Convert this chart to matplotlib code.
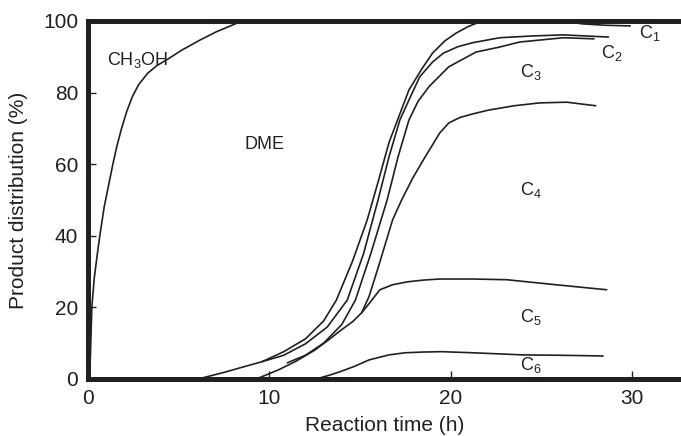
import matplotlib
matplotlib.use('Agg')
from matplotlib import pyplot as plt

plt.rcParams['font.family'] = ['Liberation Sans', 'DejaVu Sans']
plt.rcParams['mathtext.default'] = 'regular'

ink = '#231f20'

# CH3OH -> DME boundary
ch3oh_x = [0.1, 0.15, 0.22, 0.35, 0.5, 0.66, 0.9, 1.1, 1.38, 1.6, 1.86, 2.15, 2.45, 2.8,
           3.3, 3.8, 4.4, 5.2, 6.2, 7.1, 8.0, 8.5]
ch3oh_y = [0, 8, 20, 28, 34, 40, 48, 53, 60, 65, 70, 74.8, 78.8, 82.2,
           85.4, 87.5, 89.3, 91.9, 94.7, 97, 98.9, 100]

# DME / C1 boundary
c1_x = [6.1, 7.5, 8.4, 9.6, 10.8, 12.0, 13.0, 13.7, 14.6, 15.4, 16.0, 16.6, 17.2, 17.7, 18.4,
        19.0, 19.7, 20.3, 21.0, 21.6, 22.5, 24.0, 26.4, 27.2, 28.5, 29.9]
c1_y = [0, 1.8, 3.1, 4.8, 7.6, 11.2, 16.2, 22, 33, 44.4, 55, 66, 74, 80.7, 86.5,
        91, 94.5, 96.6, 98.5, 99.7, 100, 100, 100, 99.2, 98.8, 98.6]

# C1 / C2 boundary
c2_x = [9.6, 10.8, 12.0, 13.2, 14.3, 15.2, 16.0, 16.6, 17.2, 17.8, 18.3, 19.0, 19.6, 20.4,
        21.2, 22.7, 24.5, 26.2, 28.7]
c2_y = [4.8, 6.6, 9.8, 14.5, 22, 35, 50, 62, 72.3, 79, 84.4, 88.5, 91, 92.8,
        93.9, 95.3, 95.8, 96.1, 95.5]

# C2 / C3 boundary
c3_x = [11.0, 12.0, 13.0, 14.0, 14.75, 15.6, 16.5, 17.1, 17.7, 18.2, 18.8, 19.9, 21.4,
        22.7, 23.8, 26.2, 27.9]
c3_y = [4.5, 6.6, 10, 15.2, 22, 35, 50, 62, 72.3, 77.5, 81.6, 87.2, 91.3,
        92.7, 94.1, 95.3, 95.0]

# C3 / C4 boundary
c4_x = [15.1, 15.5, 16.0, 16.8, 17.3, 17.9, 18.5, 19.4, 19.9, 20.5, 21.2, 22.1, 23.5,
        24.9, 26.4, 28.0]
c4_y = [18.5, 23, 31, 44.4, 50, 56, 61.2, 68.7, 71.5, 73, 74, 75.1, 76.3,
        77.1, 77.3, 76.3]

# C4 / C5 boundary
c5_x = [9.3, 10.5, 11.5, 12.5, 13.3, 13.9, 14.6, 15.1, 15.5, 16.1, 16.8, 17.6, 18.5,
        19.4, 21.2, 23.1, 25.8, 28.6]
c5_y = [0, 2.5, 5, 8, 11, 13.4, 16, 18.5, 21, 24.9, 26.3, 27.1, 27.6,
        27.9, 27.9, 27.7, 26.3, 24.9]

# C5 / C6 boundary
c6_x = [12.6, 13.3, 13.9, 14.7, 15.5, 16.6, 17.5, 18.5, 19.5, 21.2, 24.0, 26.0, 28.4]
c6_y = [0, 1, 2, 3.5, 5.3, 6.7, 7.3, 7.5, 7.6, 7.3, 6.7, 6.6, 6.4]

labels = ['CH$_3$OH', 'DME', 'C$_1$', 'C$_2$', 'C$_3$', 'C$_4$', 'C$_5$', 'C$_6$']
label_x = [2.75, 9.75, 31.0, 28.9, 24.4, 24.4, 24.4, 24.4]
label_y = [89, 65.4, 96.5, 91, 85.8, 52.8, 17.3, 3.9]

fig = plt.figure(figsize=(6.81, 4.36), dpi=100)
ax = fig.add_axes([0.129, 0.131, 0.871, 0.821])

for xs, ys in [(ch3oh_x, ch3oh_y), (c1_x, c1_y), (c2_x, c2_y), (c3_x, c3_y),
               (c4_x, c4_y), (c5_x, c5_y), (c6_x, c6_y)]:
    ax.plot(xs, ys, color=ink, linewidth=1.2, solid_capstyle='round', solid_joinstyle='round')

for t, x, y in zip(labels, label_x, label_y):
    ax.text(x, y, t, fontsize=13, color=ink, ha='center', va='center')

ax.set_xlim(0, 32.7)
ax.set_ylim(0, 100)
ax.set_xticks([0, 10, 20, 30])
ax.set_yticks([0, 20, 40, 60, 80, 100])
ax.tick_params(direction='in', length=5.5, width=1, colors=ink, labelsize=15, pad=7)
ax.set_xlabel('Reaction time (h)', fontsize=15, color=ink, labelpad=6)
ax.set_ylabel('Product distribution (%)', fontsize=15, color=ink, labelpad=11)

for side in ['left', 'bottom', 'top']:
    ax.spines[side].set_linewidth(3.6)
    ax.spines[side].set_color(ink)
ax.spines['right'].set_visible(False)

fig.savefig('out.png', dpi=100)
